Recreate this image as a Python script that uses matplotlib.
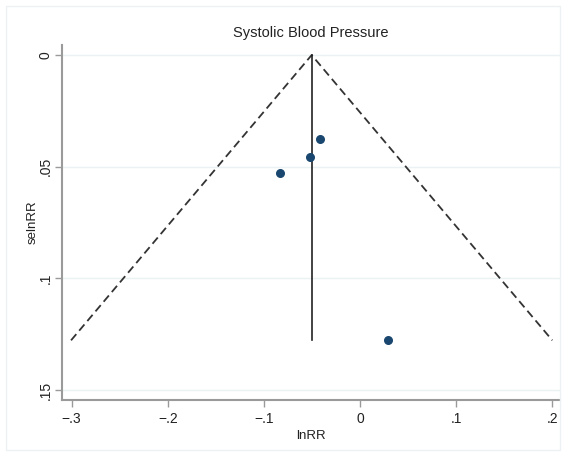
import matplotlib
matplotlib.use('Agg')
import matplotlib.pyplot as plt
import numpy as np

# study estimates (lnRR, se)
lnrr = [-0.0417, -0.0517, -0.0837, 0.0288]
se_lnrr = [0.0376, 0.0458, 0.0527, 0.1277]
pooled = -0.0503

x_ticks = [-0.3, -0.2, -0.1, 0, 0.1, 0.2]
x_labels = ['\u2212.3', '\u2212.2', '\u2212.1', '0', '.1', '.2']
y_ticks = [0, 0.05, 0.1, 0.15]
y_labels = ['0', '.05', '.1', '.15']

plt.rcParams['font.family'] = ['Liberation Sans', 'DejaVu Sans']

fig = plt.figure(figsize=(5.65, 4.55), dpi=100)
# outer light frame like Stata graph region
fig.patches.append(plt.Rectangle((0.011, 0.011), 0.98, 0.975, transform=fig.transFigure,
                                 fill=False, edgecolor='#eef1f3', linewidth=1))
ax = fig.add_axes([62 / 565, 1 - 400 / 455, (560 - 62) / 565, (400 - 45) / 455])

max_se = max(se_lnrr)
# pseudo 95% confidence limits
ax.plot([pooled - 1.96 * max_se, pooled, pooled + 1.96 * max_se], [max_se, 0, max_se],
        color='#333333', linestyle=(0, (4.5, 2.5)), linewidth=1.3)
ax.plot([pooled, pooled], [0, max_se], color='#222222', linewidth=1.2)
ax.scatter(lnrr, se_lnrr, s=30, color='#1a476f', zorder=3)

ax.set_xlim(-0.310, 0.208)
ax.set_ylim(0.1544, -0.0045)
ax.set_xticks(x_ticks)
ax.set_xticklabels(x_labels, fontsize=10)
ax.set_yticks(y_ticks)
ax.set_yticklabels(y_labels, fontsize=10, rotation=90, va='center')
ax.grid(axis='y', color='#eaf2f3', linewidth=1)
ax.set_axisbelow(True)

for s in ['top', 'right']:
    ax.spines[s].set_visible(False)
for s in ['left', 'bottom']:
    ax.spines[s].set_color('#9a9a9a')
    ax.spines[s].set_linewidth(1.5)
ax.tick_params(color='#9a9a9a', length=5, width=1, labelcolor='#222222')
ax.tick_params(axis='y', pad=2)

ax.set_xlabel('lnRR', fontsize=9.5, color='#222222', labelpad=3)
ax.set_ylabel('selnRR', fontsize=9.5, color='#222222', labelpad=0)
fig.text(311 / 565, 1 - 33 / 455, 'Systolic Blood Pressure', ha='center', va='center',
         fontsize=10.5, color='#222222')

plt.savefig('out.png', dpi=100)
